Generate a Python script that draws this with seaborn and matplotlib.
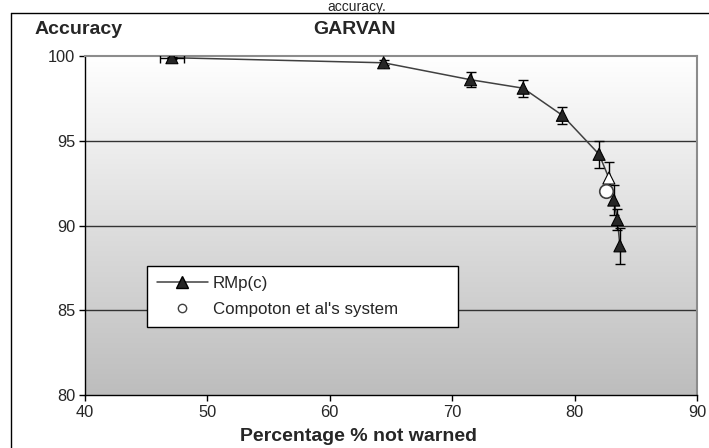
import numpy as np
import matplotlib
matplotlib.use("Agg")
import matplotlib.pyplot as plt
import seaborn as sns
import pandas as pd
from matplotlib.lines import Line2D
from matplotlib.colors import LinearSegmentedColormap

# data
pct_not_warned = [47.1, 64.4, 71.5, 75.8, 79.0, 82.0, 82.8, 83.2, 83.5, 83.7]
accuracy = [99.9, 99.6, 98.6, 98.1, 96.5, 94.2, 92.8, 91.5, 90.35, 88.8]
acc_err = [0.05, 0.15, 0.45, 0.5, 0.5, 0.8, 0.95, 0.9, 0.6, 1.05]
pct_err = [1.0, 0, 0, 0, 0, 0, 0, 0, 0, 0]
compton_x = [82.6]
compton_y = [92.05]

df = pd.DataFrame({"pct": pct_not_warned, "acc": accuracy})

sns.set_style("white")
plt.rcParams["font.family"] = ["Liberation Sans", "DejaVu Sans"]

fig = plt.figure(figsize=(7.09, 4.48), dpi=100)
ax = fig.add_axes([85 / 709, 1 - 395 / 448, 612 / 709, 339 / 448])

# grey gradient background
cmap = LinearSegmentedColormap.from_list("bg", ["#ffffff", "#bdbdbd"])
grad = np.linspace(0, 1, 256).reshape(-1, 1)
ax.imshow(grad, cmap=cmap, aspect="auto", extent=[40, 90, 80, 100],
          origin="upper", zorder=0)

for yv in [85, 90, 95]:
    ax.axhline(yv, color="#333333", lw=1, zorder=1)

sns.lineplot(data=df, x="pct", y="acc", ax=ax, color="#404040", lw=1.1,
             sort=False, estimator=None, zorder=2)
ax.errorbar(pct_not_warned, accuracy, yerr=acc_err, xerr=pct_err, fmt="none",
            ecolor="black", elinewidth=1, capsize=3.5, capthick=1, zorder=3)

faces = ["#262626"] * len(accuracy)
faces[6] = "white"
ax.scatter(pct_not_warned, accuracy, marker="^", s=75, c=faces,
           edgecolors="black", linewidths=0.8, zorder=4)
sns.scatterplot(x=compton_x, y=compton_y, ax=ax, marker="o", s=95,
                color="white", edgecolor="#404040", linewidth=1.2, zorder=5)

ax.set_xlim(40, 90)
ax.set_ylim(80, 100)
ax.set_xticks(range(40, 91, 10))
ax.set_yticks(range(80, 101, 5))
ax.tick_params(axis="both", labelsize=11.8, length=4, width=1, color="black",
               direction="out", bottom=True, left=True, pad=3)
ax.set_xlabel("")
ax.set_ylabel("")
for side in ["left", "bottom"]:
    ax.spines[side].set_color("black")
    ax.spines[side].set_linewidth(1)
for side in ["top", "right"]:
    ax.spines[side].set_color("#8c8c8c")
    ax.spines[side].set_linewidth(1.5)

handles = [
    Line2D([], [], color="#404040", lw=1.1, marker="^", markersize=8,
           markerfacecolor="#262626", markeredgecolor="black"),
    Line2D([], [], color="none", marker="o", markersize=6,
           markerfacecolor="white", markeredgecolor="#404040"),
]
leg = ax.legend(handles, ["RMp(c)", "Compoton et al's system"],
                loc="lower left", bbox_to_anchor=(0.101, 0.2, 0.508, 0.181),
                mode="expand", fontsize=12.2, frameon=True, fancybox=False,
                handlelength=3.0, handletextpad=0.3, borderpad=0.6,
                labelspacing=0.65, borderaxespad=0)
leg.get_frame().set_edgecolor("black")
leg.get_frame().set_linewidth(1)
leg.get_frame().set_facecolor("white")
leg.get_frame().set_alpha(1)
leg.set_zorder(6)

fig.text(79 / 709, 1 - 30 / 448, "Accuracy", fontsize=14, fontweight="bold",
         ha="center", va="center")
fig.text(355 / 709, 1 - 30 / 448, "GARVAN", fontsize=14, fontweight="bold",
         ha="center", va="center")
fig.text(359 / 709, 1 - 436 / 448, "Percentage % not warned", fontsize=14,
         fontweight="bold", ha="center", va="center")
fig.text(357 / 709, 1.0, "accuracy.", fontsize=10, ha="center", va="top")

# outer frame (only top and left edges visible in the crop)
fig.add_artist(Line2D([11 / 709, 11 / 709], [0, 1 - 13 / 448],
                      transform=fig.transFigure, color="black", lw=1))
fig.add_artist(Line2D([11 / 709, 1], [1 - 13 / 448, 1 - 13 / 448],
                      transform=fig.transFigure, color="black", lw=1))

fig.savefig("out.png", dpi=100)
